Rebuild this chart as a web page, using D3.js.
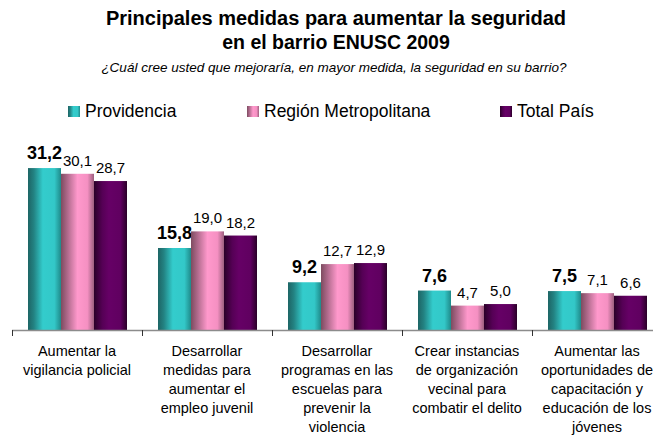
<!DOCTYPE html>
<html>
<head>
<meta charset="utf-8">
<script src="https://cdn.jsdelivr.net/npm/d3@7"></script>
<style>
  html, body { margin: 0; padding: 0; background: #fff; overflow: hidden; }
  svg { display: block; font-family: "Liberation Sans", Arial, sans-serif; }
</style>
</head>
<body>
<svg id="chart" width="653" height="435"></svg>
<script>
const categories = [
  ["Aumentar la", "vigilancia policial"],
  ["Desarrollar", "medidas para", "aumentar el", "empleo juvenil"],
  ["Desarrollar", "programas en las", "escuelas para", "prevenir la", "violencia"],
  ["Crear instancias", "de organización", "vecinal para", "combatir el delito"],
  ["Aumentar las", "oportunidades de", "capacitación y", "educación de los", "jóvenes"]
];
const seriesNames = ["Providencia", "Región Metropolitana", "Total País"];
const providencia = [31.2, 15.8, 9.2, 7.6, 7.5];
const regionMetropolitana = [30.1, 19.0, 12.7, 4.7, 7.1];
const totalPais = [28.7, 18.2, 12.9, 5.0, 6.6];
const seriesValues = [providencia, regionMetropolitana, totalPais];

const svg = d3.select("#chart");
const W = 653, H = 435;

// gradients
const defs = svg.append("defs");
const grads = [
  { id: "g0", stops: [[0, "#1d6565"], [0.18, "#238383"], [0.45, "#33cccc"], [0.8, "#33c8c8"], [1, "#1f8a8a"]] },
  { id: "g1", stops: [[0, "#7d4c60"], [0.2, "#b06a8c"], [0.5, "#ff99cc"], [0.8, "#f590c2"], [1, "#9c5f7e"]] },
  { id: "g2", stops: [[0, "#2a0028"], [0.25, "#550055"], [0.45, "#660066"], [0.8, "#600060"], [1, "#2a0028"]] }
];
grads.forEach(g => {
  const lg = defs.append("linearGradient").attr("id", g.id)
    .attr("x1", "0%").attr("x2", "100%").attr("y1", "0%").attr("y2", "0%");
  g.stops.forEach(s => lg.append("stop").attr("offset", s[0]).attr("stop-color", s[1]));
});

// title
svg.append("text").attr("x", 336).attr("y", 25).attr("text-anchor", "middle")
  .attr("font-size", 20).attr("font-weight", "bold").attr("fill", "#000")
  .text("Principales medidas para aumentar la seguridad");
svg.append("text").attr("x", 336).attr("y", 49).attr("text-anchor", "middle")
  .attr("font-size", 19.5).attr("font-weight", "bold").attr("fill", "#000")
  .text("en el barrio ENUSC 2009");
svg.append("text").attr("x", 334).attr("y", 72).attr("text-anchor", "middle")
  .attr("font-size", 13.5).attr("font-style", "italic").attr("fill", "#000")
  .text("¿Cuál cree usted que mejoraría, en mayor medida, la seguridad en su barrio?");

// legend
const legendX = [68, 247, 500];
seriesNames.forEach((name, i) => {
  const g = svg.append("g").attr("transform", `translate(${legendX[i]},0)`);
  g.append("rect").attr("x", 0).attr("y", 106).attr("width", 12).attr("height", 11)
    .attr("fill", `url(#g${i})`);
  g.append("text").attr("x", 17).attr("y", 117).attr("font-size", 17.5).attr("fill", "#000")
    .text(name);
});

// scales
const x0 = d3.scaleBand().domain(d3.range(categories.length)).range([12, 662]).paddingInner(0).paddingOuter(0);
const x1 = d3.scaleBand().domain(d3.range(seriesNames.length)).range([16, 115]).padding(0);
const y = d3.scaleLinear().domain([0, 35]).range([330, 330 - 35 * 5.19]);

// bars
seriesValues.forEach((vals, s) => {
  svg.append("g").selectAll("rect").data(vals).join("rect")
    .attr("x", (d, i) => x0(i) + x1(s))
    .attr("y", d => y(d))
    .attr("width", x1.bandwidth())
    .attr("height", d => y(0) - y(d))
    .attr("fill", `url(#g${s})`);
  svg.append("g").selectAll("text").data(vals).join("text")
    .attr("x", (d, i) => x0(i) + x1(s) + x1.bandwidth() / 2)
    .attr("y", d => y(d) - (s === 0 ? 9 : 8))
    .attr("text-anchor", "middle")
    .attr("font-size", s === 0 ? 18 : 15)
    .attr("font-weight", s === 0 ? "bold" : "normal")
    .attr("fill", "#000")
    .text(d => d.toFixed(1).replace(".", ","));
});

// axis
svg.append("line").attr("x1", x0(0)).attr("x2", W + 20).attr("y1", y(0) + 0.5).attr("y2", y(0) + 0.5)
  .attr("stroke", "#8c8c8c").attr("stroke-width", 1.5);
svg.append("g").selectAll("line").data(d3.range(categories.length + 1)).join("line")
  .attr("x1", i => Math.round(i < categories.length ? x0(i) : x0(i - 1) + x0.bandwidth()) + 0.5)
  .attr("x2", i => Math.round(i < categories.length ? x0(i) : x0(i - 1) + x0.bandwidth()) + 0.5)
  .attr("y1", y(0)).attr("y2", y(0) + 6)
  .attr("stroke", "#333").attr("stroke-width", 1);

// category labels
categories.forEach((lines, i) => {
  const t = svg.append("text").attr("text-anchor", "middle").attr("font-size", 14.5).attr("fill", "#000");
  lines.forEach((ln, k) => {
    t.append("tspan").attr("x", x0(i) + x0.bandwidth() / 2).attr("y", 356 + k * 19).text(ln);
  });
});
</script>
</body>
</html>
